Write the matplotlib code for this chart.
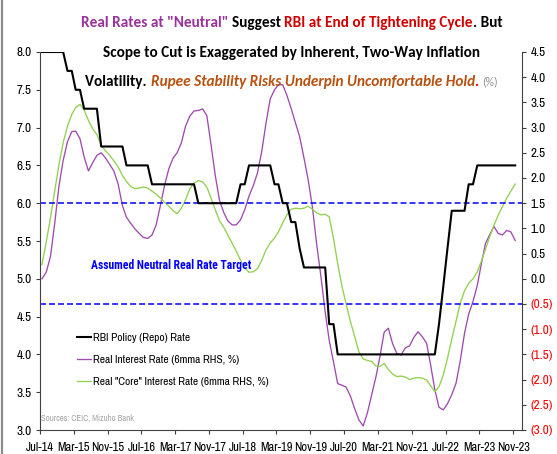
import matplotlib
matplotlib.use("Agg")
import matplotlib.pyplot as plt
import matplotlib.dates as mdates
from matplotlib.lines import Line2D
import numpy as np
import pandas as pd

# ---------------- data ----------------
months = pd.date_range("2014-07-01", periods=113, freq="MS") + pd.Timedelta(days=14)

repo_rate = ([8.0] * 6 + [7.75] * 2 + [7.5] * 2 + [7.25] * 4 + [6.75] * 6 + [6.5] * 6 +
             [6.25] * 11 + [6.0] * 10 + [6.25] * 2 + [6.5] * 6 + [6.25] * 2 + [6.0] * 2 +
             [5.75] * 2 + [5.4] + [5.15] * 6 + [4.4] * 2 + [4.0] * 24 + [4.4, 4.9, 5.4] +
             [5.9] * 4 + [6.25] * 2 + [6.5] * 10)

real_rate = [0.00, 0.13, 0.45, 1.10, 1.85, 2.35, 2.72, 2.92, 2.93, 2.78,
             2.42, 2.14, 2.30, 2.45, 2.50, 2.40, 2.27, 2.14, 1.88, 1.45,
             1.22, 1.10, 0.99, 0.90, 0.82, 0.80, 0.87, 1.07, 1.46, 1.86,
             2.19, 2.40, 2.50, 2.70, 3.03, 3.23, 3.33, 3.34, 3.37, 3.24,
             2.65, 2.05, 1.55, 1.31, 1.15, 1.07, 1.07, 1.17, 1.37, 1.64,
             1.85, 2.10, 2.53, 3.08, 3.57, 3.75, 3.85, 3.85, 3.64, 3.38,
             3.10, 2.82, 2.40, 1.97, 1.42, 0.70, 0.05, -0.66, -1.22, -1.65,
             -2.08, -2.11, -2.15, -2.33, -2.58, -2.80, -2.92, -2.66, -2.30, -1.94,
             -1.55, -1.06, -0.98, -1.29, -1.48, -1.51, -1.37, -1.33, -1.16, -1.05,
             -1.15, -1.28, -1.70, -2.20, -2.55, -2.60, -2.48, -2.30, -2.07, -1.63,
             -1.08, -0.70, -0.45, -0.13, 0.28, 0.70, 0.87, 1.04, 0.90, 0.87,
             0.96, 0.93, 0.76]

core_real_rate = [0.28, 0.73, 1.22, 1.74, 2.27, 2.70, 3.03, 3.26, 3.40, 3.46,
                  3.35, 3.14, 2.98, 2.86, 2.65, 2.54, 2.45, 2.34, 2.22, 2.05,
                  1.93, 1.83, 1.79, 1.80, 1.82, 1.80, 1.74, 1.68, 1.60, 1.52,
                  1.44, 1.35, 1.29, 1.40, 1.57, 1.79, 1.90, 1.95, 1.92, 1.82,
                  1.60, 1.37, 1.15, 1.02, 0.87, 0.71, 0.55, 0.37, 0.22, 0.13,
                  0.14, 0.20, 0.37, 0.57, 0.71, 0.81, 0.93, 1.11, 1.27, 1.38,
                  1.40, 1.39, 1.40, 1.44, 1.38, 1.31, 1.27, 1.28, 1.23, 0.80,
                  0.30, -0.15, -0.50, -0.85, -1.15, -1.45, -1.59, -1.62, -1.64, -1.73,
                  -1.74, -1.68, -1.80, -1.89, -1.94, -1.93, -1.95, -2.00, -1.97, -1.96,
                  -1.97, -2.01, -2.12, -2.24, -2.14, -1.91, -1.58, -1.20, -0.84, -0.49,
                  -0.24, -0.09, 0.00, 0.14, 0.34, 0.59, 0.83, 1.06, 1.26, 1.43,
                  1.60, 1.74, 1.88]

neutral_band = [1.5, -0.5]          # RHS levels of the dashed "neutral" lines
tick_dates = pd.date_range("2014-07-01", "2023-11-01", freq="8MS")
left_ticks = [3.0, 3.5, 4.0, 4.5, 5.0, 5.5, 6.0, 6.5, 7.0, 7.5, 8.0]
right_ticks = [-3.0, -2.5, -2.0, -1.5, -1.0, -0.5, 0.0, 0.5, 1.0, 1.5, 2.0, 2.5, 3.0, 3.5, 4.0, 4.5]

labels = ["RBI Policy (Repo) Rate",
          "Real Interest Rate (6mma RHS, %)",
          "Real \"Core\" Interest Rate (6mma RHS, %)"]

# ---------------- style ----------------
W, H, DPI = 557, 454, 100
TICK_FONT = "Archivo Narrow"
TITLE_FONT = "Carlito"
PURPLE = "#A04AAE"
GREEN = "#92D050"
BLUE = "#0000FF"

fig = plt.figure(figsize=(W / DPI, H / DPI), dpi=DPI)
fig.patch.set_facecolor("white")

ax_l, ax_r, ax_t, ax_b = 40, 521.7, 52, 430
ax = fig.add_axes([ax_l / W, 1 - ax_b / H, (ax_r - ax_l) / W, (ax_b - ax_t) / H])
ax2 = ax.twinx()

# RHS series
ax2.plot(months, real_rate, color=PURPLE, lw=0.95, solid_joinstyle="round")
ax2.plot(months, core_real_rate, color=GREEN, lw=0.95, solid_joinstyle="round")
for lvl in neutral_band:
    ax2.axhline(lvl, color=BLUE, lw=1.1, dashes=(3.9, 2.0))

# LHS series (drawn on top)
ax.plot(months, repo_rate, color="black", lw=1.5)
ax.set_zorder(ax2.get_zorder() + 1)
ax.patch.set_visible(False)

ax.set_ylim(3.0, 8.0)
ax2.set_ylim(-3.0, 4.5)
ax.set_xlim(pd.Timestamp("2014-07-01"), pd.Timestamp("2024-01-01"))

ax.set_yticks(left_ticks)
ax.set_yticklabels([f"{v:.1f}" for v in left_ticks])
ax2.set_yticks(right_ticks)
ax2.set_yticklabels([f"({abs(v):.1f})" if v < 0 else f"{v:.1f}" for v in right_ticks])
for lab, v in zip(ax2.get_yticklabels(), right_ticks):
    lab.set_color("#FF0000" if v < 0 else "black")

ax.set_xticks(tick_dates)
ax.xaxis.set_major_formatter(mdates.DateFormatter("%b-%y"))

for a in (ax, ax2):
    for s in a.spines.values():
        s.set_visible(False)
ax.spines["left"].set_visible(True)
ax.spines["bottom"].set_visible(True)
ax2.spines["right"].set_visible(True)
for s in (ax.spines["left"], ax.spines["bottom"], ax2.spines["right"]):
    s.set_color("#404040")
    s.set_linewidth(0.8)

ax.tick_params(axis="y", direction="out", length=3, width=0.8, color="#404040", pad=3,
               labelsize=9.5)
ax.tick_params(axis="x", direction="out", length=3, width=0.8, color="#404040", pad=5.5,
               labelsize=9.0)
ax2.tick_params(axis="y", direction="out", length=3, width=0.8, color="#404040", pad=3.5,
                labelsize=9.5)
for lab in ax.get_xticklabels() + ax.get_yticklabels() + ax2.get_yticklabels():
    lab.set_family([TICK_FONT, "DejaVu Sans"])

# legend
handles = [Line2D([], [], color="black", lw=1.5),
           Line2D([], [], color=PURPLE, lw=0.95),
           Line2D([], [], color=GREEN, lw=0.95)]
leg = ax.legend(handles, labels, loc="upper left", bbox_to_anchor=((77 - ax_l) / (ax_r - ax_l), (ax_b - 333) / (ax_b - ax_t)),
                frameon=False, prop={"family": [TICK_FONT, "DejaVu Sans"], "size": 8.2},
                handlelength=1.25, handletextpad=0.15, labelspacing=1.05, borderaxespad=0, borderpad=0)

# annotations
fig.text(91 / W, 1 - 265 / H, "Assumed Neutral Real Rate Target", color=BLUE, fontsize=8.4,
         fontweight="bold", family=["Roboto Condensed", "PT Sans Narrow", "DejaVu Sans"],
         ha="left", va="center")
fig.text(41 / W, 1 - 418.5 / H, "Sources: CEIC, Mizuho Bank", color="#A6A6A6", fontsize=6.3,
         family=[TICK_FONT, "DejaVu Sans"], ha="left", va="center")

# left image border
fig.add_artist(Line2D([1.5 / W, 1.5 / W], [0, 1], color="#8C8C8C", lw=1.6, transform=fig.transFigure))

# ---------------- multi-coloured title ----------------
renderer = fig.canvas.get_renderer()


def text_adv(s, props):
    t1 = fig.text(0, 0, s + "|", **props)
    t2 = fig.text(0, 0, "|", **props)
    w = t1.get_window_extent(renderer).width - t2.get_window_extent(renderer).width
    t1.remove()
    t2.remove()
    return w


def rich_line(segments, cx, y_center):
    widths = [text_adv(s, p) for s, p in segments]
    x = cx - sum(widths) / 2
    for (s, p), w in zip(segments, widths):
        fig.text(x / W, 1 - y_center / H, s, ha="left", va="center_baseline", **p)
        x += w


TS = 11
bold = dict(family=[TITLE_FONT, "DejaVu Sans"], fontsize=TS, fontweight="bold")
rich_line([("Real Rates at \"Neutral\" ", dict(color="#993399", **bold)),
           ("Suggest ", dict(color="black", **bold)),
           ("RBI at End of Tightening Cycle", dict(color="#D00000", **bold)),
           (". But", dict(color="black", **bold))], 291.7, 21.5)
rich_line([("Scope to Cut is Exaggerated by Inherent, Two-Way Inflation", dict(color="black", **bold))],
          291.7, 51)
rich_line([("Volatility. ", dict(color="black", **bold)),
           ("Rupee Stability Risks Underpin Uncomfortable Hold", dict(color="#B8500F", style="italic", **bold)),
           (". ", dict(color="#E00000", **bold)),
           ("(%)", dict(color="#8C8C8C", family=[TITLE_FONT, "DejaVu Sans"], fontsize=8.5))],
          291.7, 80.5)

fig.savefig("out.png", dpi=DPI)
